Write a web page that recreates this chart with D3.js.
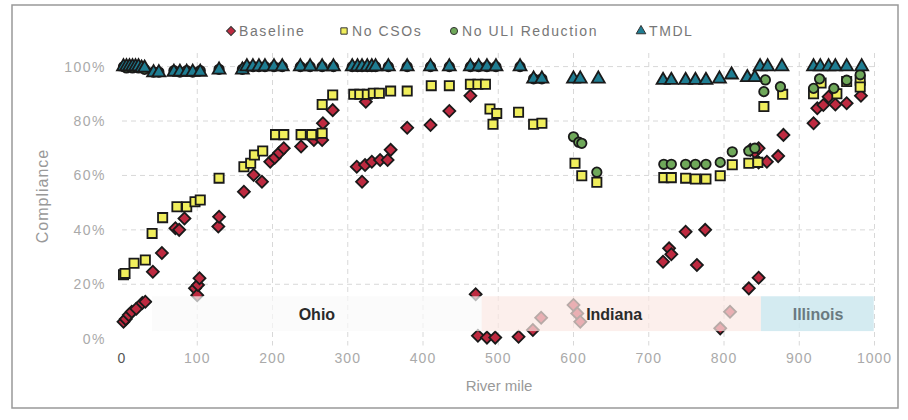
<!DOCTYPE html>
<html>
    <head>
        <meta charset="UTF-8"/>
        <style>
            body { margin: 0; background: #fff; }
            text { font-family: "Liberation Sans", Arial, sans-serif; }
        </style>
    </head>
    <body>
        <script src="https://d3js.org/d3.v7.min.js" type="text/javascript"></script>
        <script>
        let width = 908;
        let height = 420;

        // [river mile, compliance %]
        let baseline = [
            [2, 6.2], [5, 7.2], [9, 8.7], [13, 9.9], [19, 11], [27, 13.1], [31, 13.6],
            [41, 24.6], [53, 31.5], [71, 40.6], [76, 40], [83, 44.2],
            [97, 18.5], [100, 16], [101, 19.7], [103, 22.2], [128, 41.2], [129, 44.8],
            [162, 54], [175, 60.2], [186, 57.7], [197, 65], [203, 66.5], [209, 68.3], [215, 70],
            [238, 70.6], [255, 73], [266, 73], [267, 79.2], [280, 84], [324, 87.1],
            [312, 63.2], [319, 57.7], [323, 63.8], [332, 65], [343, 65.7], [353, 65.7], [357, 69.4],
            [379, 77.5], [410, 78.5], [435, 83.7], [463, 89.3], [470, 16.3],
            [473, 1.1], [485, 0.4], [496, 0.4], [527, 0.7], [546, 3.2], [557, 7.7],
            [600, 12.4], [605, 9.3], [609, 6.2],
            [719, 28.3], [727, 33.2], [730, 31], [749, 39.3], [764, 27.1], [775, 40],
            [795, 3.8], [808, 9.9], [833, 18.5], [846, 22.4],
            [835, 69.4], [841, 68.6], [846, 70], [846, 64.8], [857, 65], [872, 67.1], [879, 74.9],
            [919, 79.2], [924, 84.7], [932, 85.9], [939, 88.9], [948, 86.1], [963, 86.5], [982, 89.3]
        ];
        let noCSOs = [
            [2, 23.5], [4, 24], [16, 27.7], [31, 28.9], [40, 38.7], [54, 44.5], [73, 48.5], [86, 48.5],
            [97, 50.3], [104, 51], [129, 59], [162, 63.2], [171, 64.5], [176, 67.5], [187, 69],
            [204, 75], [215, 75], [238, 75], [252, 75], [266, 75.5], [266, 86.1], [280, 89.6],
            [308, 89.8], [316, 89.8], [326, 89.8], [334, 90.2], [342, 90.2], [357, 91], [379, 91],
            [411, 93], [435, 93], [463, 93.5], [473, 93.5], [483, 93.5],
            [489, 84.4], [498, 82.8], [493, 78.8], [527, 83.2], [547, 78.8], [558, 79.2],
            [602, 64.5], [611, 59.9], [631, 57.5],
            [720, 59.2], [730, 59.2], [749, 59], [762, 58.7], [776, 58.7], [795, 59.9], [811, 63.9],
            [833, 64.5], [845, 64.8], [853, 85.3], [878, 89.8],
            [919, 90], [929, 94], [950, 90], [963, 94.5], [981, 95], [981, 92.5]
        ];
        let noULI = [
            [2, 100], [6, 99.5], [10, 100], [14, 99.5], [18, 100], [22, 99.5], [26, 100], [30, 99],
            [42, 98], [49, 98], [69, 98.5], [77, 98], [86, 98.5], [94, 98], [104, 98.5],
            [129, 99], [160, 99], [166, 100], [174, 100], [182, 100], [190, 100], [202, 100], [213, 100],
            [237, 100], [250, 100], [266, 100], [281, 100], [306, 100], [313, 100], [319, 100],
            [326, 100], [332, 100], [337, 100], [354, 100], [379, 100], [410, 100], [435, 100],
            [463, 100], [474, 100], [485, 100], [497, 100], [529, 100], [547, 95.5], [558, 95.5],
            [600, 74.2], [607, 72.2], [611, 71.8], [631, 61.2],
            [720, 64.1], [730, 64.1], [749, 64.1], [762, 64.1], [776, 64.1], [795, 64.8], [811, 68.7],
            [833, 69], [841, 70], [853, 90.8], [855, 95.1], [875, 92.6],
            [919, 92], [927, 95.5], [946, 92], [963, 95], [981, 97]
        ];
        let tmdl = [
            [2, 100], [6, 100], [10, 100], [14, 100], [18, 100], [22, 100], [26, 99.5], [30, 99.5],
            [42, 97.8], [49, 97.8], [69, 98], [77, 98], [86, 98], [94, 98], [104, 98],
            [129, 98.8], [160, 98.8], [166, 100], [174, 100], [182, 100], [190, 100], [202, 100], [213, 100],
            [237, 100], [250, 100], [266, 100], [281, 100], [306, 100], [313, 100], [319, 100],
            [326, 100], [332, 100], [337, 100], [354, 100], [379, 100], [410, 100], [435, 100],
            [463, 100], [474, 100], [485, 100], [497, 100], [529, 100], [547, 95.5], [558, 95.5],
            [600, 95.5], [609, 95.5], [633, 95.5],
            [719, 95], [730, 95], [749, 95], [762, 95], [776, 95], [794, 95.5], [810, 97],
            [831, 96], [841, 96], [848, 100], [858, 100], [877, 100],
            [919, 100], [928, 100], [939, 100], [948, 100], [963, 100], [983, 100]
        ];

        let states = ["Ohio", "Indiana", "Illinois"];
        let stateStart = [40, 478, 849];
        let stateEnd = [478, 849, 999];
        let stateLabelMile = [259, 654, 925];
        let bandLow = 2.8;
        let bandHigh = 15.6;

        let xTicks = [0, 100, 200, 300, 400, 500, 600, 700, 800, 900, 1000];
        let yTicks = [0, 20, 40, 60, 80, 100];
        let seriesNames = ["Baseline", "No CSOs", "No ULI Reduction", "TMDL"];

        let x = d3.scaleLinear().domain([0, 1000]).range([122, 874.5]);
        let y = d3.scaleLinear().domain([0, 100]).range([338.7, 66.6]);

        let svg = d3.select("body")
            .append("svg")
            .attr("width", width)
            .attr("height", height);

        svg.append("rect")
            .attr("x", 12).attr("y", 5)
            .attr("width", 886).attr("height", 403)
            .attr("fill", "none")
            .attr("stroke", "#999")
            .attr("stroke-width", 1.5);

        // gridlines
        svg.append("g").selectAll("line")
            .data(yTicks.filter(function(d) { return d > 0; }))
            .enter()
            .append("line")
            .attr("x1", x(0)).attr("x2", x(1005))
            .attr("y1", function(d) { return y(d); })
            .attr("y2", function(d) { return y(d); })
            .attr("stroke", "#d8d8d8")
            .attr("stroke-dasharray", "5,4");
        svg.append("g").selectAll("line")
            .data(xTicks.filter(function(d) { return d > 0; }))
            .enter()
            .append("line")
            .attr("x1", function(d) { return x(d); })
            .attr("x2", function(d) { return x(d); })
            .attr("y1", y(105)).attr("y2", y(-2.5))
            .attr("stroke", "#d8d8d8")
            .attr("stroke-dasharray", "5,4");

        // tick labels
        svg.append("g").selectAll("text")
            .data(yTicks)
            .enter()
            .append("text")
            .attr("x", 106)
            .attr("y", function(d) { return y(d) + 5; })
            .attr("text-anchor", "end")
            .attr("font-size", "14px")
            .attr("letter-spacing", "1.5px")
            .attr("fill", "#aaa")
            .text(function(d) { return d + "%"; });
        svg.append("g").selectAll("text")
            .data(xTicks)
            .enter()
            .append("text")
            .attr("x", function(d) { return x(d); })
            .attr("y", 363)
            .attr("text-anchor", "middle")
            .attr("font-size", "14px")
            .attr("letter-spacing", "1px")
            .attr("fill", function(d) { return d === 0 ? "#555" : "#aaa"; })
            .text(function(d) { return d; });

        svg.append("text")
            .attr("transform", "translate(48, 196) rotate(-90)")
            .attr("text-anchor", "middle")
            .attr("font-size", "16px")
            .attr("letter-spacing", "1px")
            .attr("fill", "#999")
            .text("Compliance");
        svg.append("text")
            .attr("x", 499).attr("y", 391)
            .attr("text-anchor", "middle")
            .attr("font-size", "15px")
            .attr("fill", "#999")
            .text("River mile");

        // baseline diamonds are squares turned 45 degrees
        let symbolTypes = [d3.symbolSquare, d3.symbolSquare, d3.symbolCircle, d3.symbolTriangle];
        let symbolRotate = [45, 0, 0, 0];
        let symbolSizes = [72, 85, 70, 72];
        let colors = ["#be2a40", "#f0ee5c", "#6fa85a", "#1f7d92"];
        let allSeries = [baseline, noCSOs, noULI, tmdl];

        allSeries.forEach(function(series, i) {
            let sym = d3.symbol().type(symbolTypes[i]).size(symbolSizes[i]);
            svg.append("g").selectAll("path")
                .data(series)
                .enter()
                .append("path")
                .attr("d", sym)
                .attr("transform", function(d) {
                    return "translate(" + x(d[0]) + "," + y(d[1]) + ") rotate(" + symbolRotate[i] + ")";
                })
                .attr("fill", colors[i])
                .attr("stroke", "#1a1a1a")
                .attr("stroke-width", 1.8);
        });

        // state bands drawn over the points
        let bandColors = ["#fafafa", "#fbe8e4", "#cde8ef"];
        let bandOpacity = [0.7, 0.7, 0.85];
        svg.append("g").selectAll("rect")
            .data(states)
            .enter()
            .append("rect")
            .attr("x", function(d, i) { return x(stateStart[i]); })
            .attr("width", function(d, i) { return x(stateEnd[i]) - x(stateStart[i]); })
            .attr("y", y(bandHigh))
            .attr("height", y(bandLow) - y(bandHigh))
            .attr("fill", function(d, i) { return bandColors[i]; })
            .attr("opacity", function(d, i) { return bandOpacity[i]; });
        svg.append("g").selectAll("text")
            .data(states)
            .enter()
            .append("text")
            .attr("x", function(d, i) { return x(stateLabelMile[i]); })
            .attr("y", y((bandLow + bandHigh) / 2) + 6)
            .attr("text-anchor", "middle")
            .attr("font-size", "16px")
            .attr("font-weight", "bold")
            .attr("fill", function(d, i) { return i === 2 ? "#6a7a80" : "#2a2a2a"; })
            .text(function(d) { return d; });

        // legend
        let legendX = [231, 344, 454, 641];
        let legend = svg.append("g");
        seriesNames.forEach(function(name, i) {
            legend.append("path")
                .attr("d", d3.symbol().type(symbolTypes[i]).size(40))
                .attr("transform", "translate(" + legendX[i] + ",31) rotate(" + symbolRotate[i] + ")")
                .attr("fill", colors[i])
                .attr("stroke", "#333")
                .attr("stroke-width", 1);
            legend.append("text")
                .attr("x", legendX[i] + 8)
                .attr("y", 36)
                .attr("font-size", "14px")
                .attr("letter-spacing", "1.6px")
                .attr("fill", "#777")
                .text(name);
        });
        </script>
    </body>
</html>
